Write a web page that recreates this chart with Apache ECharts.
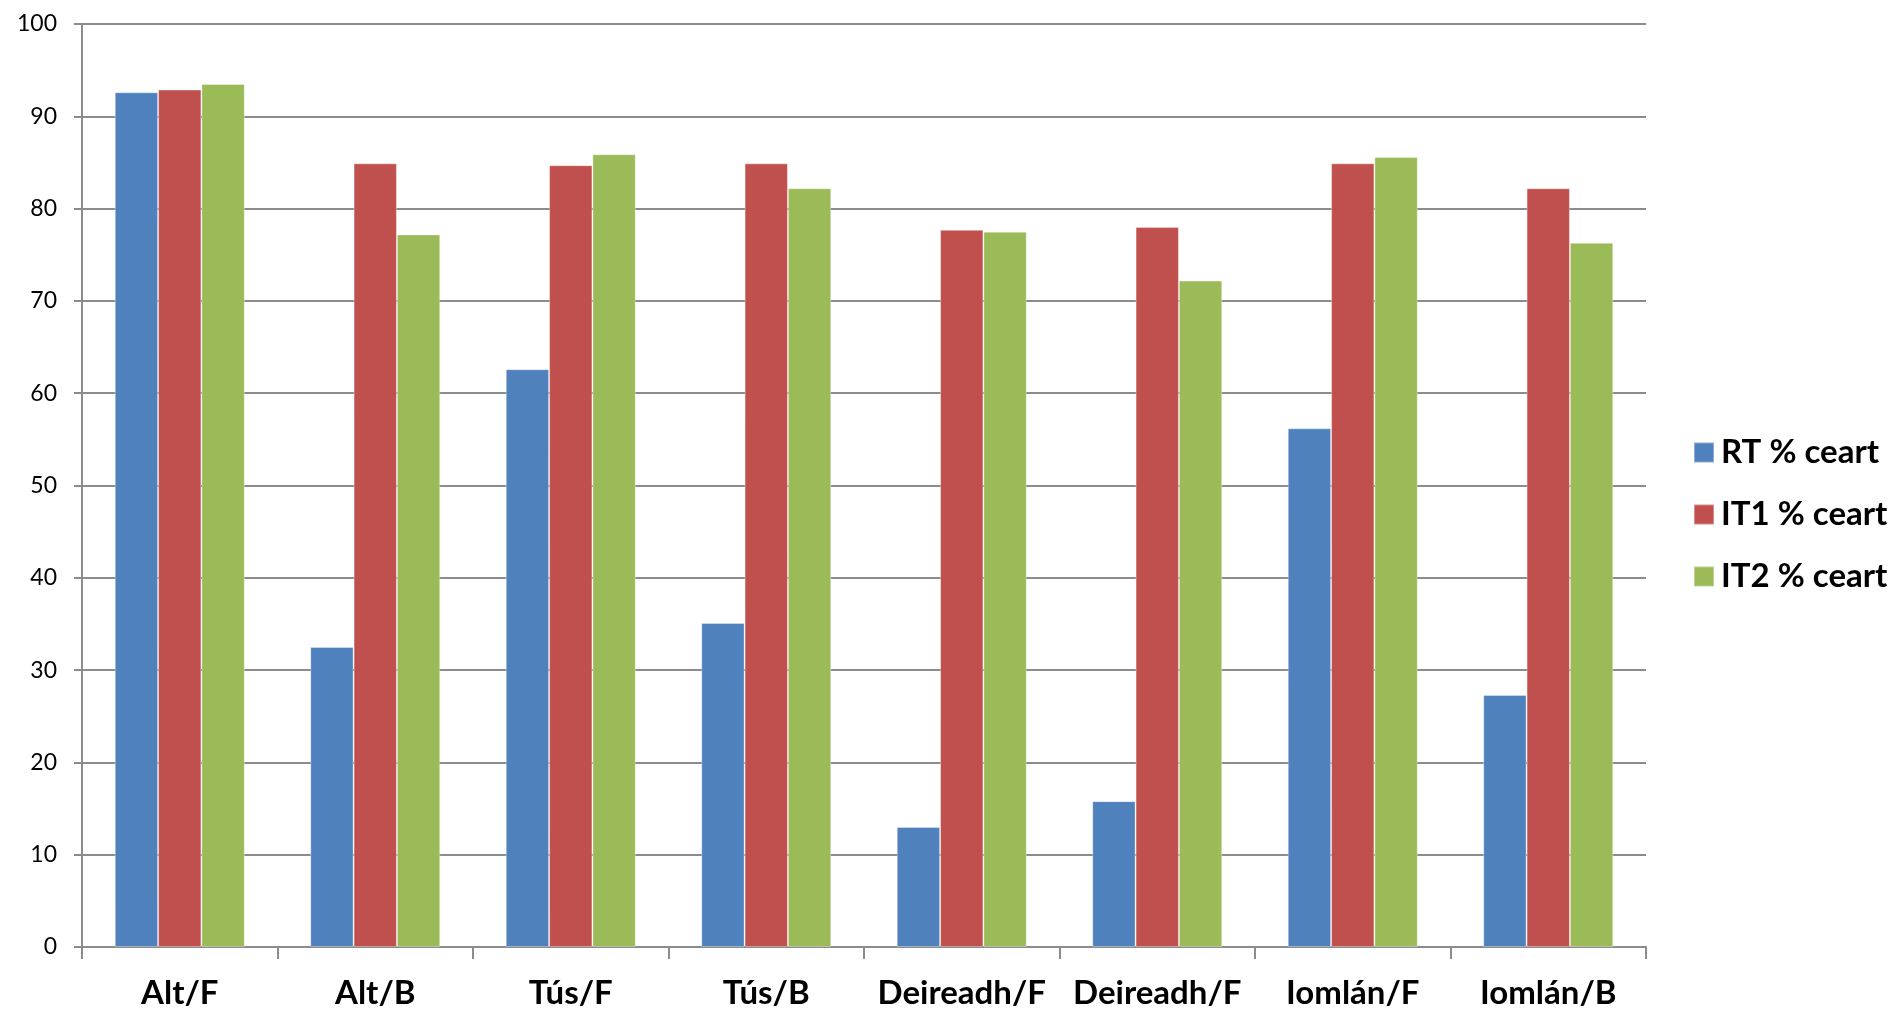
<!DOCTYPE html>
<html>
<head>
<meta charset="utf-8">
<script src="https://cdn.jsdelivr.net/npm/echarts@6/dist/echarts.min.js"></script>
<style>
html,body{margin:0;padding:0;background:#fff;}
#chart{width:1901px;height:1013px;}
</style>
</head>
<body>
<div id="chart"></div>
<script>
var categories = ['Alt/F', 'Alt/B', 'Tús/F', 'Tús/B', 'Deireadh/F', 'Deireadh/F', 'Iomlán/F', 'Iomlán/B'];
var seriesNames = ['RT % ceart', 'IT1 % ceart', 'IT2 % ceart'];
var rtValues  = [92.6, 32.5, 62.6, 35.1, 13.0, 15.8, 56.2, 27.3];
var it1Values = [92.9, 84.9, 84.7, 84.9, 77.7, 78.0, 84.9, 82.2];
var it2Values = [93.5, 77.2, 85.9, 82.2, 77.5, 72.2, 85.6, 76.3];
var yTicks = { min: 0, max: 100, interval: 10 };
var colors = ['#4F81BD', '#C0504D', '#9BBB59'];

var chart = echarts.init(document.getElementById('chart'), null, {renderer: 'canvas'});
function mk(name, data, color) {
  return {
    name: name, type: 'bar', data: data,
    barGap: '0%', barCategoryGap: '33.5%',
    itemStyle: { color: color, borderColor: 'rgba(255,255,255,0.35)', borderWidth: 1 },
    animation: false
  };
}
chart.setOption({
  animation: false,
  color: colors,
  grid: { left: 82, top: 24, width: 1564, height: 923, containLabel: false },
  legend: {
    orient: 'vertical', left: 1693, top: 436, padding: 0, itemWidth: 20, itemHeight: 20, itemGap: 29,
    icon: 'rect',
    textStyle: { fontFamily: 'Lato', fontWeight: 'bold', fontSize: 33, color: '#000', padding: [0, 0, 0, 2] },
    data: seriesNames
  },
  xAxis: {
    type: 'category', data: categories,
    axisLine: { lineStyle: { color: '#8c8c8c', width: 2 } },
    axisTick: { show: true, length: 12, lineStyle: { color: '#8c8c8c', width: 2 } },
    axisLabel: { margin: 30, fontFamily: 'Lato', fontWeight: 'bold', fontSize: 33, color: '#000', interval: 0 }
  },
  yAxis: {
    type: 'value', min: yTicks.min, max: yTicks.max, interval: yTicks.interval,
    axisLine: { show: true, lineStyle: { color: '#8c8c8c', width: 2 } },
    axisTick: { show: true, length: 8, lineStyle: { color: '#8c8c8c', width: 2 } },
    splitLine: { lineStyle: { color: '#8c8c8c', width: 2 } },
    axisLabel: { margin: 25, fontFamily: 'Lato', fontSize: 23, color: '#000' }
  },
  series: [
    mk(seriesNames[0], rtValues, colors[0]),
    mk(seriesNames[1], it1Values, colors[1]),
    mk(seriesNames[2], it2Values, colors[2])
  ]
});
</script>
</body>
</html>
